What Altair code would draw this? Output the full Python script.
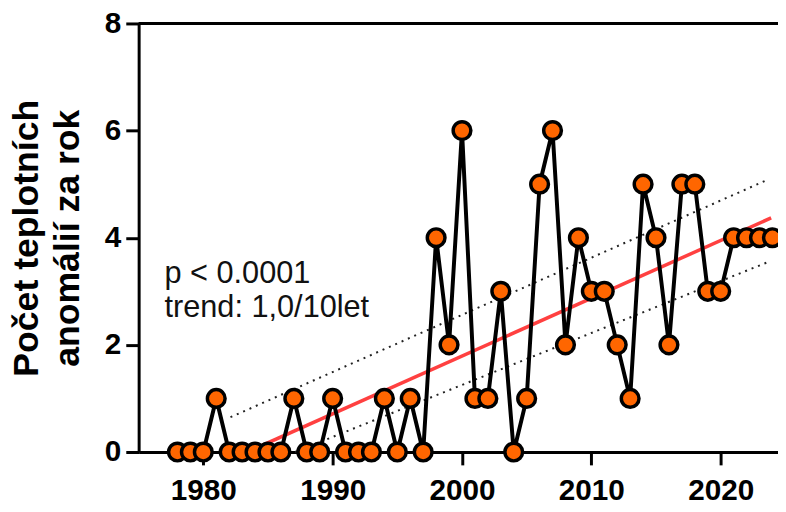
import altair as alt
import pandas as pd

years = list(range(1978, 2025))
counts = [0, 0, 0, 1, 0, 0, 0, 0, 0, 1, 0, 0, 1, 0, 0, 0, 1, 0, 1, 0,
          4, 2, 6, 1, 1, 3, 0, 1, 5, 6, 2, 4, 3, 3, 2, 1, 5, 4, 2, 5,
          5, 3, 3, 4, 4, 4, 4]

trend_x = [1983.4, 2023.9]
trend_y = [0.0, 4.37]
upper_x = [1982.1, 2023.7]
upper_y = [0.65, 5.09]
lower_x = [1987.1, 2023.8]
lower_y = [0.0, 3.56]

x_ticks = [1980, 1990, 2000, 2010, 2020]
y_ticks = [0, 2, 4, 6, 8]
y_title = ["Počet teplotních", "anomálií za rok"]
note_lines = ["p < 0.0001", "trend: 1,0/10let"]

FONT = "Liberation Sans"
XDOM = [1975, 2024.43]

df = pd.DataFrame({"year": years, "count": counts})
trend = pd.DataFrame({"year": trend_x, "count": trend_y})
upper = pd.DataFrame({"year": upper_x, "count": upper_y})
lower = pd.DataFrame({"year": lower_x, "count": lower_y})

xs = alt.Scale(domain=XDOM, nice=False, zero=False)
ys = alt.Scale(domain=[0, 8], nice=False)

xax = alt.Axis(values=x_ticks, format="d", title=None, grid=False,
               labelFont=FONT, labelFontSize=30, labelFontWeight="bold",
               labelColor="black", domainColor="black", domainWidth=3,
               tickColor="black", tickWidth=3, tickSize=13, labelPadding=11)
yax = alt.Axis(values=y_ticks, format="d", title=y_title, grid=False,
               labelFont=FONT, labelFontSize=30, labelFontWeight="bold",
               labelColor="black", domainColor="black", domainWidth=3,
               tickColor="black", tickWidth=3, tickSize=13, labelPadding=5,
               titleFont=FONT, titleFontSize=36, titleFontWeight="bold",
               titleColor="black", titlePadding=18, titleLineHeight=41)

base_x = alt.X("year:Q", scale=xs, axis=xax)
base_y = alt.Y("count:Q", scale=ys, axis=yax)

top_rule = alt.Chart(pd.DataFrame({"count": [8]})).mark_rule(
    color="black", strokeWidth=3).encode(y=alt.Y("count:Q", scale=ys))

band_up = alt.Chart(upper).mark_line(color="#222222", strokeWidth=2,
                                     strokeDash=[2, 5]).encode(
    x=alt.X("year:Q", scale=xs), y=alt.Y("count:Q", scale=ys))
band_lo = alt.Chart(lower).mark_line(color="#222222", strokeWidth=2,
                                     strokeDash=[2, 5]).encode(
    x=alt.X("year:Q", scale=xs), y=alt.Y("count:Q", scale=ys))
trend_line = alt.Chart(trend).mark_line(color="#ff4040", strokeWidth=3.5).encode(
    x=alt.X("year:Q", scale=xs), y=alt.Y("count:Q", scale=ys))

data_line = alt.Chart(df).mark_line(color="black", strokeWidth=4).encode(
    x=base_x, y=base_y)
points = alt.Chart(df).mark_point(filled=True, fill="#ff6600", stroke="black",
                                  strokeWidth=3.5, size=320, opacity=1,
                                  shape="circle").encode(
    x=alt.X("year:Q", scale=xs), y=alt.Y("count:Q", scale=ys))

note = alt.Chart(pd.DataFrame({"year": [1977.0], "count": [3.16],
                               "t": [note_lines]})).mark_text(
    align="left", baseline="alphabetic", font=FONT, fontSize=31,
    color="#111111", lineHeight=35).encode(
    x=alt.X("year:Q", scale=xs), y=alt.Y("count:Q", scale=ys), text="t:N")

chart = alt.layer(band_up, band_lo, trend_line, data_line, points, top_rule, note).properties(
    width=646, height=433,
    autosize=alt.AutoSizeParams(type="none"),
    padding={"left": 132, "top": 13, "right": 0, "bottom": 58},
    background="white",
).configure_view(stroke=None)

chart.save("out.html", embed_options={"renderer": "svg", "actions": False})
